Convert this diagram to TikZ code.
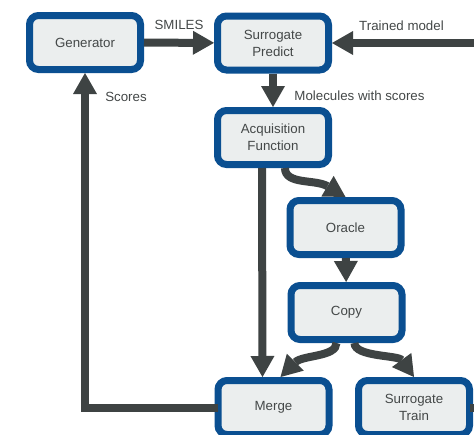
\documentclass[tikz,border=0pt]{standalone}
\usepackage{fontspec}
\setmainfont{Liberation Sans}
\usetikzlibrary{arrows.meta}
\definecolor{boxblue}{HTML}{0A4F91}
\definecolor{boxfill}{HTML}{EBEEEE}
\definecolor{arrowgray}{HTML}{3E4343}
\definecolor{textgray}{HTML}{444848}
\begin{document}
\begin{tikzpicture}[x=1pt,y=-1pt,
  stepbox/.style={draw=boxblue,fill=boxfill,line width=7pt,rounded corners=9pt,
    minimum width=111pt,minimum height=54pt,inner sep=0pt,align=center,
    text=textgray,font=\fontsize{13.3}{17}\selectfont},
  flow/.style={draw=arrowgray,line width=8pt,
    -{Triangle[length=21pt,width=24pt,line width=0pt]}},
  plainflow/.style={draw=arrowgray,line width=8pt},
  lbl/.style={text=textgray,font=\fontsize{13.3}{16}\selectfont,inner sep=0pt}]
\clip (0,0) rectangle (474,434);
\fill[white] (0,0) rectangle (474,434);
\node[stepbox] (gen) at (85,42.5) {Generator};
\node[stepbox] (sp) at (273,43) {Surrogate\\Predict};
\node[stepbox] (acq) at (273,137.5) {Acquisition\\Function};
\node[stepbox] (orc) at (345.5,227.5) {Oracle};
\node[stepbox] (cpy) at (346.5,312.5) {Copy};
\node[stepbox] (mrg) at (273.5,407.5) {Merge};
\node[stepbox] (trn) at (414,407.5) {Surrogate\\Train};
\coordinate (tmin) at (484,43);
\coordinate (tout) at (484,407.5);
\draw[flow] (gen) -- (sp);
\draw[flow] (tmin) -- (sp);
\draw[flow] (sp) -- (acq);
\draw[flow] ([xshift=-11pt]acq.south) -- ([xshift=-11pt]mrg.north);
\draw[flow] ([xshift=12pt]acq.south) .. controls +(0,17) and +(-30,-18) .. (orc.north);
\draw[flow] (orc) -- (cpy);
\draw[flow] ([xshift=-10pt]cpy.south) .. controls +(0,14) and +(22,-22) .. ([xshift=7pt]mrg.north);
\draw[flow] ([xshift=8pt]cpy.south) .. controls +(0,14) and +(-16,-22) .. (trn.north);
\draw[flow] ([xshift=3pt]mrg.west) -| (gen.south);
\draw[plainflow] ([xshift=-3pt]trn.east) -- (tout);
\node[lbl] (l1) at (179,25) {SMILES};
\node[lbl] (l2) at (401.5,25.5) {Trained model};
\node[lbl] (l3) at (126,97) {Scores};
\node[lbl] (l4) at (359.5,96) {Molecules with scores};
\end{tikzpicture}
\end{document}
